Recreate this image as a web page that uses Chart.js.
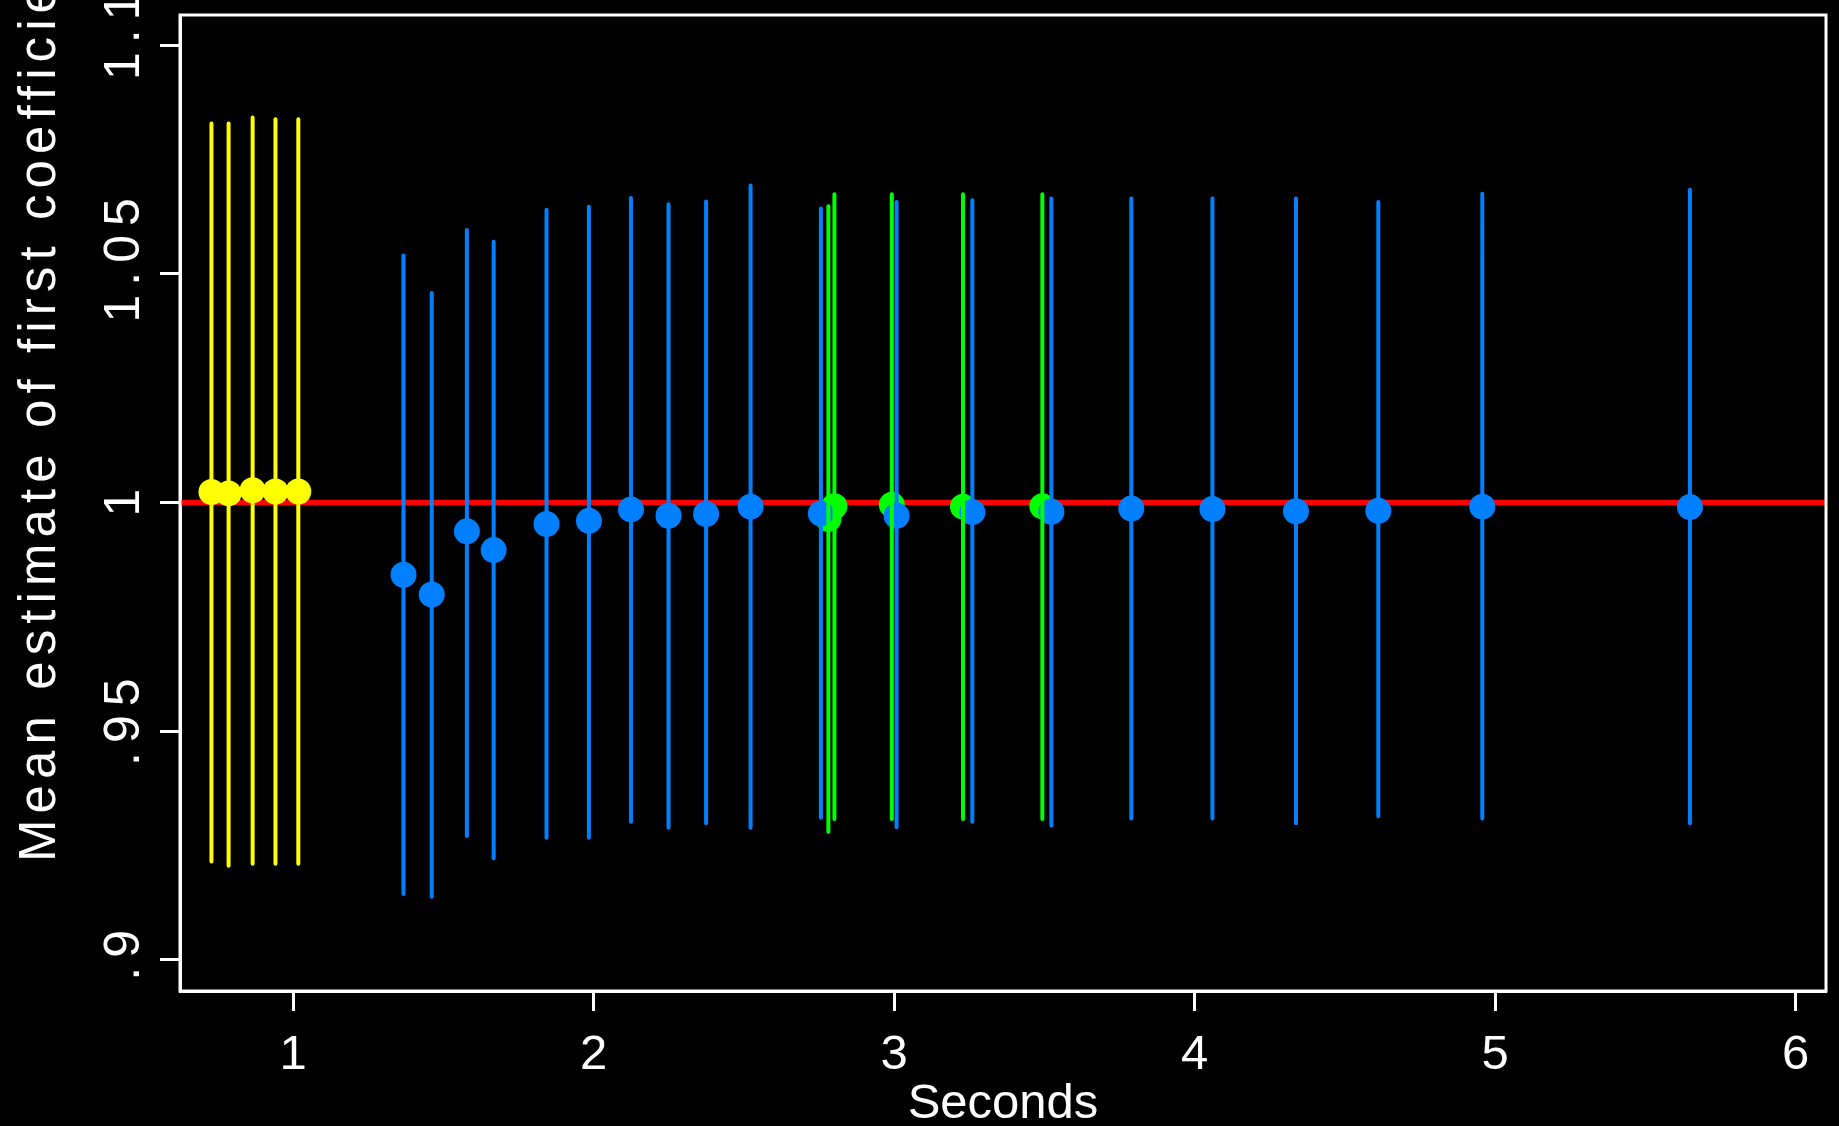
<!DOCTYPE html>
<html>
<head>
<meta charset="utf-8">
<style>
  html, body { margin: 0; padding: 0; background: #000; }
  canvas { display: block; }
</style>
<script src="https://cdn.jsdelivr.net/npm/chart.js@4.4.1/dist/chart.umd.min.js"></script>
</head>
<body>
<canvas id="chart" width="1839" height="1126"></canvas>
<script>
// yellow group
const yellowX = [0.728, 0.785, 0.865, 0.941, 1.017];
const yellowY = [1.0023, 1.0020, 1.0027, 1.0024, 1.0024];
const yellowLo = [0.9215, 0.9206, 0.9210, 0.9210, 0.9210];
const yellowHi = [1.0829, 1.0829, 1.0842, 1.0838, 1.0838];

// blue group
const blueX = [1.367, 1.461, 1.578, 1.667, 1.843, 1.984, 2.124, 2.249, 2.374, 2.522,
               2.756, 3.008, 3.260, 3.523, 3.789, 4.059, 4.337, 4.611, 4.957, 5.648];
const blueY = [0.9842, 0.9799, 0.9937, 0.9896, 0.9953, 0.9960, 0.9985, 0.9971, 0.9975, 0.9991,
               0.9976, 0.9971, 0.9979, 0.9980, 0.9987, 0.9986, 0.9981, 0.9982, 0.9991, 0.9990];
const blueLo = [0.9144, 0.9138, 0.9271, 0.9222, 0.9267, 0.9267, 0.9302, 0.9289, 0.9299, 0.9289,
                0.9311, 0.9290, 0.9302, 0.9294, 0.9309, 0.9309, 0.9299, 0.9314, 0.9309, 0.9299];
const blueHi = [1.0540, 1.0458, 1.0596, 1.0570, 1.0640, 1.0647, 1.0666, 1.0652, 1.0658, 1.0693,
                1.0643, 1.0657, 1.0661, 1.0665, 1.0665, 1.0665, 1.0665, 1.0657, 1.0675, 1.0684];

// green group
const greenX = [2.781, 2.801, 2.992, 3.229, 3.493];
const greenY = [0.9964, 0.9992, 0.9995, 0.9991, 0.9992];
const greenLo = [0.9280, 0.9308, 0.9308, 0.9308, 0.9308];
const greenHi = [1.0648, 1.0674, 1.0674, 1.0674, 1.0674];

const refValue = 1;
const xTicks = [1, 2, 3, 4, 5, 6];
const yTicks = [0.9, 0.95, 1, 1.05, 1.1];
const yTickLabels = ['.9', '.95', '1', '1.05', '1.1'];
const xMin = 0.6233, xMax = 6.1008;
const yMin = 0.8932, yMax = 1.1066;

const fontFamily = '"Liberation Sans", Arial, Helvetica, sans-serif';

// vertical interval segments, broken by nulls
function bars(xs, lo, hi) {
    const pts = [];
    xs.forEach((x, i) => {
        pts.push({ x: x, y: lo[i] }, { x: x, y: hi[i] }, { x: x, y: null });
    });
    return pts;
}

function dots(xs, ys) {
    return xs.map((x, i) => ({ x: x, y: ys[i] }));
}

function barSet(xs, lo, hi, color, order) {
    return {
        type: 'line', data: bars(xs, lo, hi), borderColor: color, borderWidth: 4,
        borderCapStyle: 'round', pointRadius: 0, spanGaps: false, order: order
    };
}

function dotSet(xs, ys, color, order) {
    return {
        type: 'scatter', data: dots(xs, ys), backgroundColor: color, pointBackgroundColor: color,
        pointBorderWidth: 0, pointRadius: 13, pointHoverRadius: 13, order: order
    };
}

// R-style rotated text: start placed from the unspaced width, then drawn letter-spaced
function rotatedText(ctx, text, x, y, spacing, centered) {
    ctx.save();
    ctx.letterSpacing = '0px';
    const w0 = ctx.measureText(text).width;
    ctx.letterSpacing = spacing + 'px';
    ctx.translate(x, centered ? y + w0 / 2 : y);
    ctx.rotate(-Math.PI / 2);
    ctx.textAlign = 'left';
    ctx.fillText(text, 0, 0);
    ctx.restore();
}

const framePlugin = {
    id: 'frame',
    afterDraw(chart) {
        const { ctx, chartArea: a } = chart;
        const y = chart.scales.y;
        ctx.save();
        ctx.strokeStyle = '#ffffff';
        ctx.lineWidth = 3;
        ctx.strokeRect(a.left, a.top, a.right - a.left, a.bottom - a.top);

        ctx.fillStyle = '#ffffff';
        ctx.font = '50px ' + fontFamily;
        ctx.textBaseline = 'alphabetic';
        y.ticks.forEach(t => {
            rotatedText(ctx, t.label, a.left - 41, y.getPixelForValue(t.value), 9, true);
        });

        ctx.font = '51px ' + fontFamily;
        rotatedText(ctx, 'Mean estimate of first coefficient', a.left - 125, a.bottom - 129, 6.1, false);
        ctx.restore();
    }
};

const axisGrid = {
    drawOnChartArea: false, drawTicks: true, tickLength: 20,
    tickColor: '#ffffff', tickWidth: 3
};

new Chart(document.getElementById('chart'), {
    type: 'scatter',
    data: {
        datasets: [
            barSet(greenX, greenLo, greenHi, '#00ff00', 1),
            barSet(yellowX, yellowLo, yellowHi, '#ffff00', 2),
            barSet(blueX, blueLo, blueHi, '#0080ff', 3),
            dotSet(yellowX, yellowY, '#ffff00', 4),
            dotSet(blueX, blueY, '#0080ff', 5),
            dotSet(greenX, greenY, '#00ff00', 6),
            {
                type: 'line', data: [{ x: xMin, y: refValue }, { x: xMax, y: refValue }],
                borderColor: '#ff0000', borderWidth: 5.5, pointRadius: 0, order: 7
            }
        ]
    },
    options: {
        responsive: false,
        animation: false,
        devicePixelRatio: 1,
        layout: { padding: { left: 0, right: 13, top: 15, bottom: 0 } },
        plugins: {
            legend: { display: false },
            tooltip: { enabled: false }
        },
        scales: {
            x: {
                type: 'linear', min: xMin, max: xMax,
                afterBuildTicks: s => { s.ticks = xTicks.map(v => ({ value: v })); },
                afterFit: s => { s.height = 135; },
                grid: axisGrid,
                border: { display: true, color: '#ffffff', width: 3 },
                ticks: {
                    color: '#ffffff', padding: 15, maxRotation: 0,
                    font: { family: fontFamily, size: 49 },
                    callback: v => String(v)
                },
                title: {
                    display: true, text: 'Seconds', color: '#ffffff',
                    font: { family: fontFamily, size: 49, lineHeight: 1 },
                    padding: { top: 0, bottom: -3 }
                }
            },
            y: {
                type: 'linear', min: yMin, max: yMax,
                afterBuildTicks: s => { s.ticks = yTicks.map(v => ({ value: v })); },
                afterFit: s => { s.width = 180; },
                grid: axisGrid,
                border: { display: true, color: '#ffffff', width: 3 },
                ticks: {
                    display: false,
                    callback: v => yTickLabels[yTicks.indexOf(v)]
                }
            }
        }
    },
    plugins: [framePlugin]
});
</script>
</body>
</html>
